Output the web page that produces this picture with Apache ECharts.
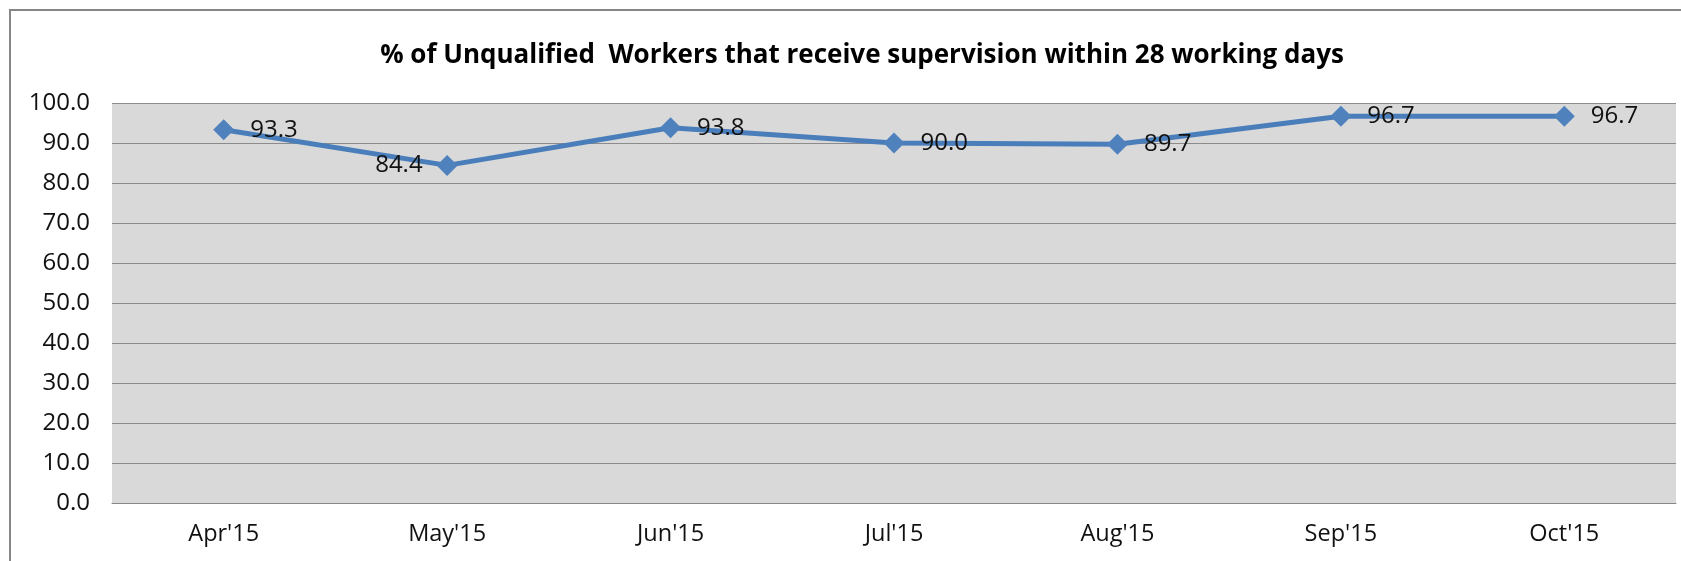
<!DOCTYPE html>
<html>
<head>
<meta charset="utf-8">
<script src="https://cdn.jsdelivr.net/npm/echarts@6/dist/echarts.min.js"></script>
<style>
html,body{margin:0;padding:0;background:#fff;}
#c{width:1681px;height:561px;}
</style>
</head>
<body>
<div id="c"></div>
<script>
const titleText = "% of Unqualified  Workers that receive supervision within 28 working days";
const categories = ["Apr'15", "May'15", "Jun'15", "Jul'15", "Aug'15", "Sep'15", "Oct'15"];
const values = [93.3, 84.4, 93.8, 90.0, 89.7, 96.7, 96.7];
const labelSides = ["right", "left", "right", "right", "right", "right", "right"];

const chart = echarts.init(document.getElementById('c'), null, {renderer: 'canvas'});
const FONT = '"Open Sans", "Liberation Sans", sans-serif';

chart.setOption({
  animation: false,
  backgroundColor: '#ffffff',
  graphic: [{
    type: 'rect',
    shape: {x: 10, y: 10, width: 1700, height: 600},
    style: {fill: 'none', stroke: '#868686', lineWidth: 2},
    z: -10
  }],
  title: {
    text: titleText,
    left: 857,
    textAlign: 'center',
    top: 35,
    textStyle: {fontFamily: FONT, fontWeight: 'bold', fontSize: 26, color: '#000', lineHeight: 32}
  },
  grid: {
    left: 112, right: 5, top: 103, bottom: 58,
    show: true, backgroundColor: '#D9D9D9', borderWidth: 0,
    containLabel: false
  },
  xAxis: {
    type: 'category',
    data: categories,
    boundaryGap: true,
    axisTick: {show: false},
    axisLine: {show: true, lineStyle: {color: '#868686', width: 1}},
    axisLabel: {fontFamily: FONT, fontSize: 23.5, color: '#111', margin: 19}
  },
  yAxis: {
    type: 'value',
    min: 0, max: 100, interval: 10,
    axisLine: {show: false},
    axisTick: {show: false},
    splitLine: {show: true, lineStyle: {color: '#8c8c8c', width: 1}},
    axisLabel: {fontFamily: FONT, fontSize: 24, color: '#111', margin: 22,
      formatter: v => v.toFixed(1)}
  },
  series: [{
    type: 'line',
    data: values.map((v, i) => ({
      value: v,
      label: {position: labelSides[i], distance: labelSides[i] === 'left' ? 14 : 16}
    })),
    symbol: 'diamond',
    symbolSize: 21,
    lineStyle: {color: '#4A7EBB', width: 5},
    itemStyle: {color: '#4F81BD'},
    label: {
      show: true,
      fontFamily: FONT, fontSize: 24, color: '#111',
      formatter: p => p.value.toFixed(1)
    }
  }]
});
</script>
</body>
</html>
